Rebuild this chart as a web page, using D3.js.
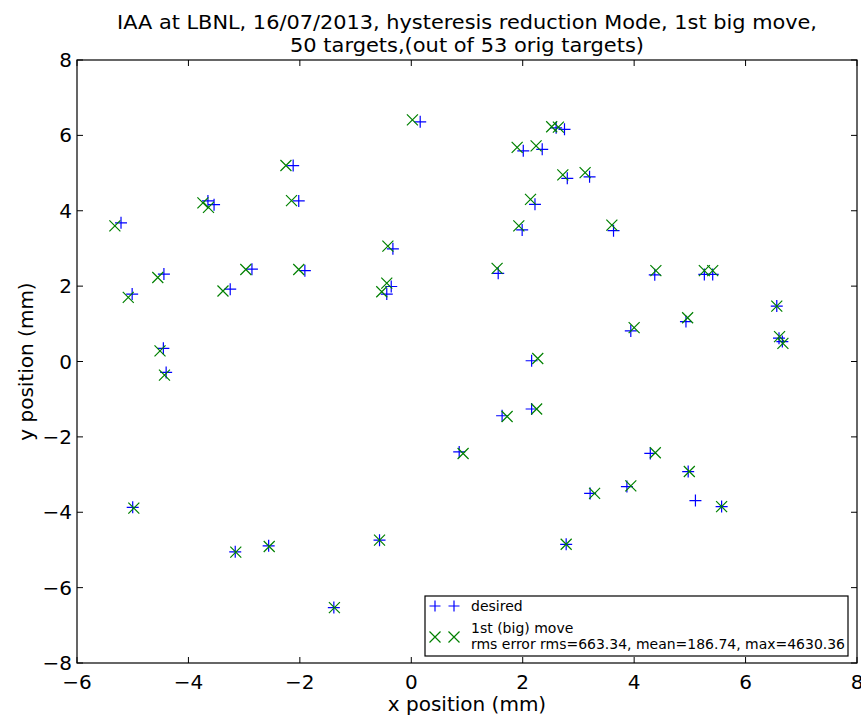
<!DOCTYPE html>
<html>
<head>
<meta charset="utf-8">
<script src="https://cdn.jsdelivr.net/npm/d3@7"></script>
<style>
body{margin:0;background:#fff;}
svg{display:block;font-family:"DejaVu Sans",sans-serif;}
</style>
</head>
<body>
<svg id="chart" width="861" height="716"></svg>
<script>
const titleLines = ["IAA at LBNL, 16/07/2013, hysteresis reduction Mode, 1st big move,", "50 targets,(out of 53 orig targets)"];
const xTicks = [-6,-4,-2,0,2,4,6,8];
const yTicks = [-8,-6,-4,-2,0,2,4,6,8];
const legendLabels = ["desired", "1st (big) move", "rms error rms=663.34, mean=186.74, max=4630.36"];

const desiredX = [-5.21,-5.01,-4.44,-3.65,-3.54,-3.25,-2.86,-2.12,-2.02,-1.91,
  0.16,2.60,2.75,2.01,2.35,2.80,3.20,2.22,1.99,-0.33,-0.36,-0.44,1.56,
  3.63,4.37,5.26,5.41,6.56,3.94,4.93,6.60,6.66,
  -4.45,-4.40,-5.00,-3.16,-2.56,-1.39,
  2.16,2.16,1.63,0.86,4.29,4.97,3.21,3.87,5.10,5.57,-0.57,2.78];
const desiredY = [3.68,1.79,2.32,4.26,4.16,1.92,2.45,5.20,4.26,2.41,
  6.36,6.20,6.16,5.59,5.63,4.86,4.90,4.17,3.49,2.99,1.99,1.79,2.34,
  3.47,2.30,2.31,2.31,1.47,0.81,1.06,0.62,0.53,
  0.35,-0.29,-3.87,-5.05,-4.89,-6.53,
  0.02,-1.26,-1.44,-2.40,-2.44,-2.92,-3.50,-3.32,-3.69,-3.85,-4.74,-4.85];
const moveX = [-5.32,-5.08,-4.55,-3.74,-3.64,-3.38,-2.97,-2.25,-2.15,-2.02,
  0.02,2.52,2.64,1.90,2.24,2.72,3.12,2.14,1.93,-0.42,-0.44,-0.53,1.54,
  3.60,4.39,5.26,5.41,6.56,4.00,4.96,6.61,6.67,
  -4.51,-4.43,-4.98,-3.15,-2.55,-1.38,
  2.27,2.25,1.72,0.93,4.38,4.99,3.29,3.94,5.57,-0.57,2.78];
const moveY = [3.60,1.70,2.23,4.21,4.09,1.87,2.44,5.20,4.27,2.44,
  6.41,6.23,6.22,5.68,5.72,4.95,5.01,4.30,3.60,3.06,2.08,1.85,2.47,
  3.62,2.41,2.41,2.41,1.47,0.90,1.16,0.66,0.48,
  0.28,-0.36,-3.89,-5.06,-4.91,-6.53,
  0.08,-1.26,-1.46,-2.44,-2.42,-2.92,-3.50,-3.30,-3.85,-4.74,-4.85];

const svg = d3.select("#chart");
const L = 77, R = 857, T = 60, B = 663;
const x = d3.scaleLinear().domain([-6, 8]).range([L, R]);
const y = d3.scaleLinear().domain([-8, 8]).range([B, T]);
const fmt = d3.format("");

// title
const title = svg.append("g").attr("font-size", 20).attr("text-anchor", "middle").attr("fill", "#000");
title.append("text").attr("x", (L+R)/2).attr("y", 29).attr("textLength", 700).attr("lengthAdjust", "spacingAndGlyphs").text(titleLines[0]);
title.append("text").attr("x", (L+R)/2).attr("y", 52).attr("textLength", 354).attr("lengthAdjust", "spacingAndGlyphs").text(titleLines[1]);

// points
const plus = (g, xs, ys, color, s) => {
  g.selectAll("path").data(xs.map((d,i)=>[d, ys[i]])).join("path")
    .attr("d", d => `M${x(d[0])-s},${y(d[1])}H${x(d[0])+s}M${x(d[0])},${y(d[1])-s}V${y(d[1])+s}`)
    .attr("stroke", color).attr("stroke-width", 1.2).attr("fill", "none");
};
const cross = (g, xs, ys, color, s) => {
  g.selectAll("path").data(xs.map((d,i)=>[d, ys[i]])).join("path")
    .attr("d", d => `M${x(d[0])-s},${y(d[1])-s}L${x(d[0])+s},${y(d[1])+s}M${x(d[0])-s},${y(d[1])+s}L${x(d[0])+s},${y(d[1])-s}`)
    .attr("stroke", color).attr("stroke-width", 1.2).attr("fill", "none");
};
plus(svg.append("g"), desiredX, desiredY, "#0000ff", 6);
cross(svg.append("g"), moveX, moveY, "#008000", 5.5);

// axes frame
svg.append("rect").attr("x", L).attr("y", T).attr("width", R-L).attr("height", B-T)
  .attr("fill", "none").attr("stroke", "#000").attr("stroke-width", 1.2);

const ticks = svg.append("g").attr("stroke", "#000").attr("stroke-width", 1);
xTicks.forEach(v => {
  ticks.append("line").attr("x1", x(v)).attr("x2", x(v)).attr("y1", B).attr("y2", B-6);
  ticks.append("line").attr("x1", x(v)).attr("x2", x(v)).attr("y1", T).attr("y2", T+6);
});
yTicks.forEach(v => {
  ticks.append("line").attr("y1", y(v)).attr("y2", y(v)).attr("x1", L).attr("x2", L+6);
  ticks.append("line").attr("y1", y(v)).attr("y2", y(v)).attr("x1", R).attr("x2", R-6);
});
const tl = svg.append("g").attr("font-size", 20).attr("fill", "#000");
xTicks.forEach(v => {
  tl.append("text").attr("x", x(v)).attr("y", B+26).attr("text-anchor", "middle").text(fmt(v));
});
yTicks.forEach(v => {
  tl.append("text").attr("x", L-5).attr("y", y(v)+7).attr("text-anchor", "end").text(fmt(v));
});

svg.append("text").attr("x", (L+R)/2).attr("y", 711).attr("text-anchor", "middle").attr("font-size", 20).text("x position (mm)");
svg.append("text").attr("transform", `translate(33,${(T+B)/2}) rotate(-90)`).attr("text-anchor", "middle").attr("font-size", 20).text("y position (mm)");

// legend
const lg = svg.append("g");
lg.append("rect").attr("x", 425).attr("y", 596).attr("width", 423).attr("height", 60)
  .attr("fill", "#fff").attr("stroke", "#000").attr("stroke-width", 1.2);
const lgS = 5.5;
[435, 454].forEach(px => {
  lg.append("path").attr("d", `M${px-lgS},606H${px+lgS}M${px},${606-lgS}V${606+lgS}`).attr("stroke", "#0000ff").attr("stroke-width", 1.2);
  lg.append("path").attr("d", `M${px-lgS},${637-lgS}L${px+lgS},${637+lgS}M${px-lgS},${637+lgS}L${px+lgS},${637-lgS}`).attr("stroke", "#008000").attr("stroke-width", 1.2);
});
const lt = lg.append("g").attr("font-size", 14).attr("fill", "#000");
lt.append("text").attr("x", 471).attr("y", 611).text(legendLabels[0]);
lt.append("text").attr("x", 471).attr("y", 633).text(legendLabels[1]);
lt.append("text").attr("x", 471).attr("y", 649).attr("textLength", 374).attr("lengthAdjust", "spacingAndGlyphs").text(legendLabels[2]);
</script>
</body>
</html>
